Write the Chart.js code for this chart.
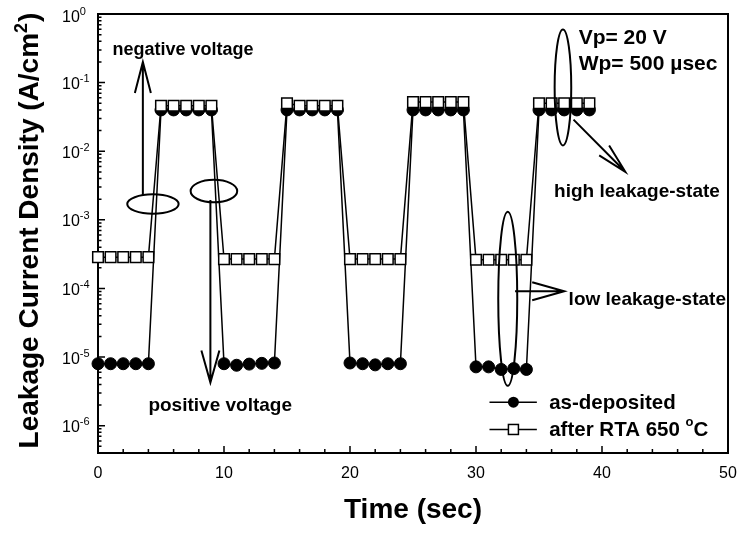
<!DOCTYPE html>
<html>
<head>
<meta charset="utf-8">
<script src="https://cdn.jsdelivr.net/npm/chart.js@4.4.0/dist/chart.umd.min.js"></script>
<style>
  html, body { margin: 0; padding: 0; background: #fff; }
</style>
</head>
<body>
<canvas id="grafico" width="738" height="533"></canvas>
<script>
// ====================================
// DADOS
// ====================================

// tempo (sec)
const tempos = [
  0, 1, 2, 3, 4, 5, 6, 7, 8, 9,
  10, 11, 12, 13, 14, 15, 16, 17, 18, 19,
  20, 21, 22, 23, 24, 25, 26, 27, 28, 29,
  30, 31, 32, 33, 34, 35, 36, 37, 38, 39
];

// as-deposited (A/cm2)
const asDeposited = [
  8.0e-6, 8.0e-6, 8.0e-6, 8.0e-6, 8.0e-6, 0.040, 0.040, 0.040, 0.040, 0.040,
  8.0e-6, 7.6e-6, 7.9e-6, 8.1e-6, 8.2e-6, 0.040, 0.040, 0.040, 0.040, 0.040,
  8.2e-6, 8.0e-6, 7.7e-6, 8.0e-6, 8.0e-6, 0.040, 0.040, 0.040, 0.040, 0.040,
  7.2e-6, 7.2e-6, 6.6e-6, 6.8e-6, 6.6e-6, 0.040, 0.040, 0.040, 0.040, 0.040
];

// after RTA 650 C (A/cm2)
const afterRTA = [
  2.86e-4, 2.86e-4, 2.86e-4, 2.86e-4, 2.86e-4, 0.046, 0.046, 0.046, 0.046, 0.046,
  2.68e-4, 2.68e-4, 2.68e-4, 2.68e-4, 2.68e-4, 0.050, 0.046, 0.046, 0.046, 0.046,
  2.68e-4, 2.68e-4, 2.68e-4, 2.68e-4, 2.68e-4, 0.052, 0.052, 0.052, 0.052, 0.052,
  2.62e-4, 2.62e-4, 2.62e-4, 2.62e-4, 2.62e-4, 0.050, 0.050, 0.050, 0.050, 0.050
];

// rotulos dos eixos
const xTicks = [0, 10, 20, 30, 40, 50];
const yExpoentes = [0, -1, -2, -3, -4, -5, -6];

// ====================================
// ANOTACOES (coordenadas em dados: t, log10)
// ====================================

const textos = [
  { texto: "negative voltage", t: 1.15, log: -0.60, tam: 18 },
  { texto: "positive voltage", t: 4.0, log: -5.78, tam: 19 },
  { texto: "Vp= 20 V", t: 38.15, log: -0.43, tam: 21 },
  { texto: "Wp= 500 \u00B5sec", t: 38.15, log: -0.81, tam: 21 },
  { texto: "high leakage-state", t: 36.2, log: -2.66, tam: 19 },
  { texto: "low leakage-state", t: 37.35, log: -4.24, tam: 19 }
];

const elipses = [
  { t: 4.36, log: -2.77, rx: 25.7, ry: 9.7 },
  { t: 9.2, log: -2.58, rx: 23.3, ry: 11.3 },
  { t: 36.9, log: -1.07, rx: 8.3, ry: 58 },
  { t: 32.52, log: -4.15, rx: 9.5, ry: 87 }
];

const setas = [
  { de: [3.56, -2.64], para: [3.56, -0.70], cab: 31, abre: 8 },
  { de: [8.92, -2.71], para: [8.92, -5.37], cab: 32, abre: 9 },
  { de: [37.74, -1.54], para: [41.85, -2.30], cab: 30, abre: 7 },
  { de: [33.1, -4.04], para: [37.0, -4.04], cab: 32, abre: 9 }
];

const FONTE = '"Liberation Sans", Arial, Helvetica, sans-serif';

Chart.defaults.font.family = FONTE;
Chart.defaults.color = "#000";

function ponto(chart, t, log) {
  return [
    chart.scales.x.getPixelForValue(t),
    chart.scales.y.getPixelForValue(Math.pow(10, log))
  ];
}

// ====================================
// MOLDURA, TICKS E ROTULOS
// ====================================

const molduraPlugin = {
  id: "moldura",
  beforeDatasetsDraw(chart) {
    const ctx = chart.ctx;
    const a = chart.chartArea;
    const sx = chart.scales.x;
    const sy = chart.scales.y;

    ctx.save();
    ctx.strokeStyle = "#000";
    ctx.lineWidth = 2;
    ctx.strokeRect(a.left, a.top, a.right - a.left, a.bottom - a.top);

    // ticks x (para dentro)
    ctx.lineWidth = 1.5;
    ctx.beginPath();
    for (let t = 0; t <= 50; t += 2) {
      const x = sx.getPixelForValue(t);
      const len = t % 10 === 0 ? 7 : 4;
      ctx.moveTo(x, a.bottom);
      ctx.lineTo(x, a.bottom - len);
    }
    // ticks y (para dentro)
    for (let d = -7; d <= 0; d++) {
      for (let m = 1; m <= 9; m++) {
        const v = m * Math.pow(10, d);
        if (v < sy.min * 0.999 || v > sy.max * 1.001) continue;
        const y = sy.getPixelForValue(v);
        const len = m === 1 ? 7 : 3.5;
        ctx.moveTo(a.left, y);
        ctx.lineTo(a.left + len, y);
      }
    }
    ctx.stroke();

    // rotulos x
    ctx.fillStyle = "#000";
    ctx.font = "16px " + FONTE;
    ctx.textAlign = "center";
    ctx.textBaseline = "alphabetic";
    xTicks.forEach(t => {
      ctx.fillText(String(t), sx.getPixelForValue(t), a.bottom + 25);
    });

    // rotulos y (10 com expoente)
    ctx.textAlign = "left";
    yExpoentes.forEach(e => {
      const y = sy.getPixelForValue(Math.pow(10, e));
      const base = Math.max(y + 6.5, 22);
      ctx.font = "16px " + FONTE;
      ctx.fillText("10", 62, base);
      const w = ctx.measureText("10").width;
      ctx.font = "11px " + FONTE;
      ctx.fillText(e === 0 ? "0" : "-" + Math.abs(e), 62 + w, base - 7);
    });

    // titulo x
    ctx.font = "bold 28px " + FONTE;
    ctx.textAlign = "center";
    ctx.fillText("Time (sec)", (a.left + a.right) / 2, 518);

    // titulo y
    ctx.save();
    ctx.translate(38, 231);
    ctx.rotate(-Math.PI / 2);
    ctx.textAlign = "left";
    const p1 = "Leakage Current Density (A/cm";
    ctx.font = "bold 28px " + FONTE;
    const w1 = ctx.measureText(p1).width;
    const w3 = ctx.measureText(")").width;
    ctx.font = "bold 18px " + FONTE;
    const w2 = ctx.measureText("2").width;
    let x0 = -(w1 + w2 + w3) / 2;
    ctx.font = "bold 28px " + FONTE;
    ctx.fillText(p1, x0, 0);
    ctx.font = "bold 18px " + FONTE;
    ctx.fillText("2", x0 + w1, -11);
    ctx.font = "bold 28px " + FONTE;
    ctx.fillText(")", x0 + w1 + w2 + 1, 0);
    ctx.restore();

    ctx.restore();
  }
};

// ====================================
// ANOTACOES E LEGENDA
// ====================================

const anotacoesPlugin = {
  id: "anotacoes",
  afterDatasetsDraw(chart) {
    const ctx = chart.ctx;
    ctx.save();
    ctx.strokeStyle = "#000";
    ctx.fillStyle = "#000";
    ctx.lineWidth = 2;

    // elipses
    elipses.forEach(e => {
      const [x, y] = ponto(chart, e.t, e.log);
      ctx.beginPath();
      ctx.ellipse(x, y, e.rx, e.ry, 0, 0, Math.PI * 2);
      ctx.stroke();
    });

    // setas
    setas.forEach(s => {
      const [x1, y1] = ponto(chart, s.de[0], s.de[1]);
      const [x2, y2] = ponto(chart, s.para[0], s.para[1]);
      const ang = Math.atan2(y2 - y1, x2 - x1);
      const ux = Math.cos(ang), uy = Math.sin(ang);
      ctx.beginPath();
      ctx.moveTo(x1, y1);
      ctx.lineTo(x2, y2);
      ctx.moveTo(x2 - ux * s.cab - uy * s.abre, y2 - uy * s.cab + ux * s.abre);
      ctx.lineTo(x2, y2);
      ctx.lineTo(x2 - ux * s.cab + uy * s.abre, y2 - uy * s.cab - ux * s.abre);
      ctx.stroke();
    });

    // textos
    ctx.textAlign = "left";
    ctx.textBaseline = "alphabetic";
    textos.forEach(tx => {
      const [x, y] = ponto(chart, tx.t, tx.log);
      ctx.font = "bold " + tx.tam + "px " + FONTE;
      ctx.fillText(tx.texto, x, y);
    });

    // legenda
    const linhas = [
      { log: -5.658, tipo: "circle" },
      { log: -6.055, tipo: "rect" }
    ];
    linhas.forEach((l, i) => {
      const [xa, y] = ponto(chart, 31.07, l.log);
      const [xb] = ponto(chart, 34.83, l.log);
      const [xm] = ponto(chart, 32.97, l.log);
      const [xt] = ponto(chart, 35.81, l.log);
      ctx.lineWidth = 1.5;
      ctx.beginPath();
      ctx.moveTo(xa, y);
      ctx.lineTo(xb, y);
      ctx.stroke();
      if (l.tipo === "circle") {
        ctx.beginPath();
        ctx.arc(xm, y, 5.5, 0, Math.PI * 2);
        ctx.fill();
      } else {
        ctx.fillStyle = "#fff";
        ctx.fillRect(xm - 5, y - 5, 10, 10);
        ctx.strokeRect(xm - 5, y - 5, 10, 10);
        ctx.fillStyle = "#000";
      }
      ctx.font = "bold 20.5px " + FONTE;
      if (i === 0) {
        ctx.fillText("as-deposited", xt, y + 7);
      } else {
        const p = "after RTA 650 ";
        ctx.fillText(p, xt, y + 7);
        const w = ctx.measureText(p).width;
        ctx.font = "bold 13px " + FONTE;
        ctx.fillText("o", xt + w, y - 3);
        const wo = ctx.measureText("o").width;
        ctx.font = "bold 20.5px " + FONTE;
        ctx.fillText("C", xt + w + wo, y + 7);
      }
    });

    ctx.restore();
  }
};

// ====================================
// GRAFICO
// ====================================

const ctx = document.getElementById("grafico");

new Chart(ctx, {
  type: "line",
  data: {
    datasets: [
      {
        label: "after RTA 650 \u00B0C",
        data: tempos.map((t, i) => ({ x: t, y: afterRTA[i] })),
        borderColor: "#000",
        borderWidth: 1.5,
        pointStyle: "rect",
        pointRadius: 7.5,
        pointBackgroundColor: "#fff",
        pointBorderColor: "#000",
        pointBorderWidth: 1.5,
        tension: 0,
        order: 0,
        clip: false
      },
      {
        label: "as-deposited",
        data: tempos.map((t, i) => ({ x: t, y: asDeposited[i] })),
        borderColor: "#000",
        borderWidth: 1.5,
        pointStyle: "circle",
        pointRadius: 6,
        pointBackgroundColor: "#000",
        pointBorderColor: "#000",
        pointBorderWidth: 1,
        tension: 0,
        order: 1,
        clip: false
      }
    ]
  },
  options: {
    responsive: false,
    animation: false,
    devicePixelRatio: 1,
    layout: {
      padding: { left: 98, top: 14, right: 10, bottom: 80 }
    },
    plugins: {
      legend: { display: false },
      tooltip: { enabled: false }
    },
    scales: {
      x: {
        type: "linear",
        min: 0,
        max: 50,
        ticks: { display: false },
        grid: { display: false },
        border: { display: false },
        afterFit: s => { s.height = 0; }
      },
      y: {
        type: "logarithmic",
        min: 4e-7,
        max: 1,
        ticks: { display: false },
        grid: { display: false },
        border: { display: false },
        afterFit: s => { s.width = 0; }
      }
    }
  },
  plugins: [molduraPlugin, anotacoesPlugin]
});
</script>
</body>
</html>
